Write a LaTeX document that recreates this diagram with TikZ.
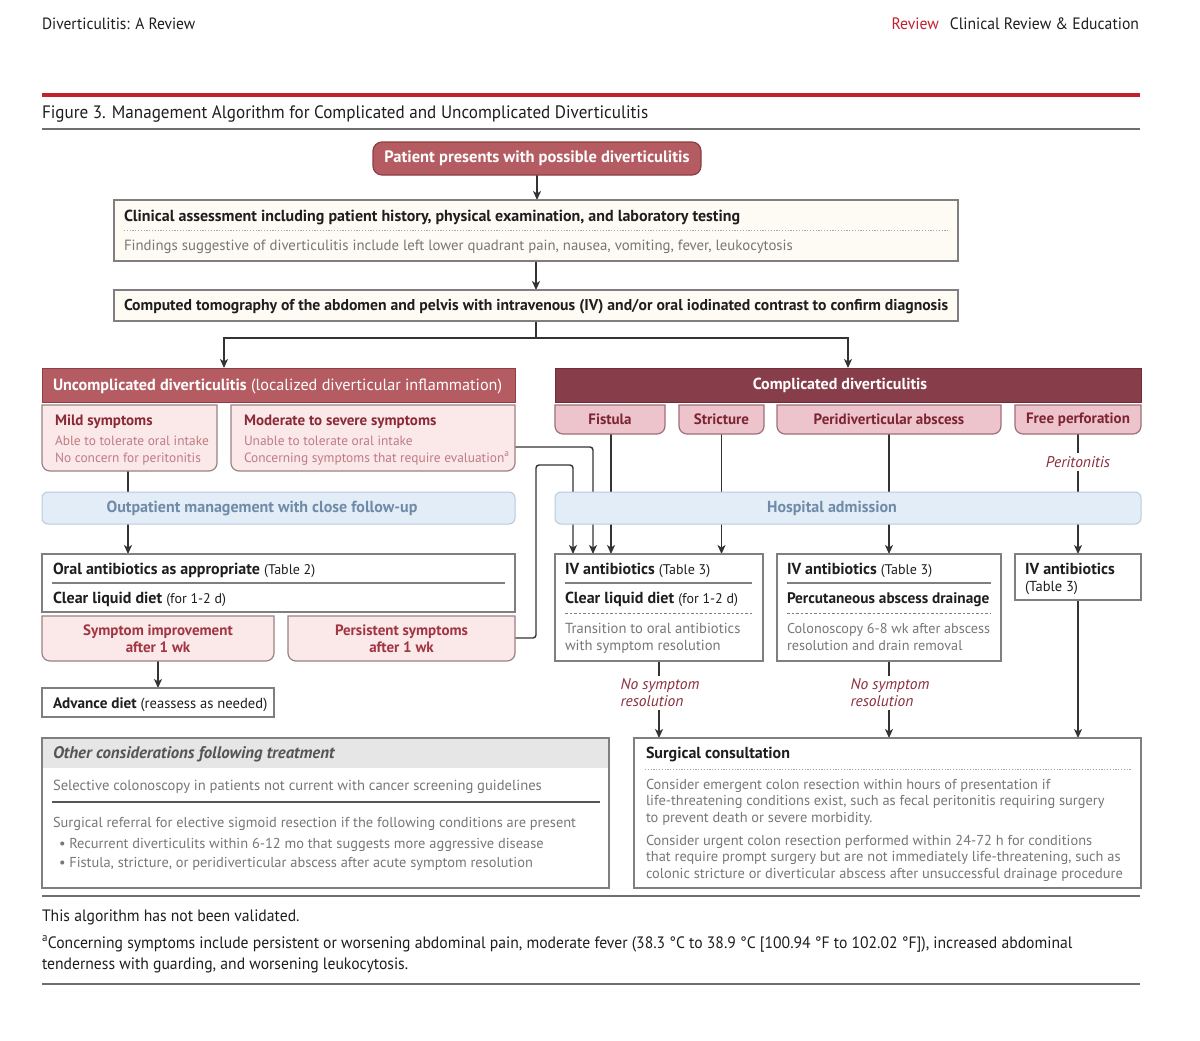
\documentclass[tikz,border=0pt]{standalone}
\usepackage{fontspec}
\setmainfont{PT Sans}
\newfontfamily\hdrf{PT Sans}[FakeStretch=0.95]
\usetikzlibrary{arrows.meta,fit,calc}
\pgfdeclarelayer{bg}
\pgfsetlayers{bg,main}
\definecolor{txtc}{HTML}{1E1E1E}
\definecolor{graytxt}{HTML}{777777}
\definecolor{linec}{HTML}{333333}
\definecolor{boxc}{HTML}{7F7F7F}
\definecolor{dotc}{HTML}{A8A8A8}
\definecolor{cream}{HTML}{FDFBF3}
\definecolor{redA}{HTML}{B45C61}
\definecolor{redB}{HTML}{8C3F45}
\definecolor{redC}{HTML}{873E4A}
\definecolor{redD}{HTML}{6E2E38}
\definecolor{pinkA}{HTML}{FBE8E9}
\definecolor{pinkB}{HTML}{9B8285}
\definecolor{pinkC}{HTML}{EDC4CB}
\definecolor{pinkD}{HTML}{9D7077}
\definecolor{mrn}{HTML}{8A2A36}
\definecolor{mrnB}{HTML}{7C2433}
\definecolor{pinktxt}{HTML}{BF7C82}
\definecolor{symc}{HTML}{A13541}
\definecolor{blueA}{HTML}{E2EDF8}
\definecolor{blueB}{HTML}{B8CADB}
\definecolor{blueT}{HTML}{6F8BA7}
\definecolor{lblc}{HTML}{8A2E3C}
\definecolor{grayband}{HTML}{E6E6E6}
\definecolor{othc}{HTML}{555555}
\definecolor{revred}{HTML}{C3202E}
\definecolor{rulec}{HTML}{6E6E6E}
\newcommand\fsz[1]{\fontsize{#1}{#1}\selectfont}
\newcommand\fsl[2]{\fontsize{#1}{#2}\selectfont}
\newcommand\bx[6]{\node[fit={(#2,-#3) (#4,-#5)}, inner sep=0pt, outer sep=0pt, #6] (#1) {};}
\newcommand\botround[2]{\path[#2] (#1.north west) -- ([yshift=8pt]#1.south west) arc[start angle=180,end angle=270,radius=8pt] -- ([xshift=-8pt]#1.south east) arc[start angle=270,end angle=360,radius=8pt] -- (#1.north east) -- cycle;}
\begin{document}
\begin{tikzpicture}[x=1pt,y=1pt,
 conn/.style={draw=linec,line width=1.4pt},
 arr/.style={conn,-{Stealth[length=9pt,width=8pt,inset=2.5pt]}},
 tx/.style={inner sep=0pt,outer sep=0pt,anchor=base west,text=txtc,font={\fsz{15.5}}},
 btx/.style={tx,font={\fsz{16}\bfseries}},
 gtx/.style={tx,text=graytxt,font={\fsz{14.6}}},
 ptx/.style={tx,text=pinktxt,font={\fsz{13.4}}},
 ctx/.style={inner sep=0pt,outer sep=0pt,anchor=center,align=center},
 lbl/.style={inner sep=3pt,align=left,text=lblc,font={\fsl{15.5}{17}\itshape}},
 whitebox/.style={fill=white,draw=boxc,line width=1.2pt},
 creambox/.style={fill=cream,draw=boxc,line width=1.2pt},
 lightpink/.style={fill=pinkA,draw=pinkB,line width=1.2pt},
 medpink/.style={fill=pinkC,draw=pinkD,line width=1.2pt},
 bluebox/.style={fill=blueA,draw=blueB,line width=1pt,rounded corners=6pt},
 sepline/.style={draw=boxc,line width=1.2pt},
 dotline/.style={draw=dotc,line width=1pt,dash pattern=on 1.2pt off 1.6pt},
 dashline/.style={draw=boxc,line width=1pt,dash pattern=on 2.5pt off 2pt},
 rule/.style={draw=rulec,line width=2pt}
]
\useasboundingbox (0,0) rectangle (1200,-1041);
\begin{pgfonlayer}{bg}
\fill[white] (0,0) rectangle (1200,-1041);
\end{pgfonlayer}

% header
\node[tx,font={\hdrf\fsz{16.3}}] (hleft) at (42,-30) {Diverticulitis: A Review};
\node[tx,anchor=base east,font={\hdrf\fsz{16.5}}] (hright) at (1139,-30) {\textcolor{revred}{Review}\hspace{11pt}Clinical Review \& Education};
\draw[revred,line width=3.5pt] (42,-95) -- (1140,-95);
\node[tx,font={\hdrf\fsz{18}}] (title) at (42,-118) {Figure 3. Management Algorithm for Complicated and Uncomplicated Diverticulitis};
\draw[rule] (42,-129) -- (1140,-129);

% top
\bx{start}{373}{142}{701}{175}{fill=redA,draw=redB,line width=1.2pt,rounded corners=9pt}
\node[ctx,text=white,font={\fsz{16.5}\bfseries}] (startT) at (start.center) {Patient presents with possible diverticulitis};

\bx{clin}{114}{200}{958}{261}{creambox}
\node[btx] (clinT) at (124,-221) {Clinical assessment including patient history, physical examination, and laboratory testing};
\draw[dotline] (124,-230) -- (950,-230);
\node[gtx,font={\fsz{14.8}}] (clinS) at (124,-250) {Findings suggestive of diverticulitis include left lower quadrant pain, nausea, vomiting, fever, leukocytosis};

\bx{ct}{114}{290}{958}{321}{creambox}
\node[btx,font={\fsz{15.7}\bfseries}] (ctT) at (124,-310) {Computed tomography of the abdomen and pelvis with intravenous (IV) and/or oral iodinated contrast to confirm diagnosis};

% headers
\bx{unc}{42}{368}{515}{402}{fill=redA,draw=redB,line width=1pt}
\node[tx,text=white,font={\fsz{16.2}}] (uncT) at (53,-390) {\textbf{Uncomplicated diverticulitis} (localized diverticular inflammation)};
\bx{comp}{555}{368}{1141}{402}{fill=redC,draw=redD,line width=1pt}
\node[ctx,text=white,font={\fsz{16}\bfseries}] (compT) at (840,-385) {Complicated diverticulitis};

% mild / moderate
\bx{mild}{42}{405}{217}{471}{}
\botround{mild}{lightpink}
\node[btx,text=mrn,font={\fsz{15}\bfseries}] (mildT) at (55,-425) {Mild symptoms};
\node[ptx] (mild1) at (55,-445) {Able to tolerate oral intake};
\node[ptx] (mild2) at (55,-462) {No concern for peritonitis};

\bx{mod}{231}{405}{515}{471}{}
\botround{mod}{lightpink}
\node[btx,text=mrn,font={\fsz{15}\bfseries}] (modT) at (244,-425) {Moderate to severe symptoms};
\node[ptx] (mod1) at (244,-445) {Unable to tolerate oral intake};
\node[ptx] (mod2) at (244,-462) {Concerning symptoms that require evaluation\textsuperscript{a}};

% complications
\bx{fist}{555}{405}{665}{434}{}
\botround{fist}{medpink}
\node[ctx,text=mrnB,font={\fsz{15}\bfseries}] (fistT) at (fist.center) {Fistula};
\bx{stric}{679}{405}{764}{434}{}
\botround{stric}{medpink}
\node[ctx,text=mrnB,font={\fsz{15}\bfseries}] (stricT) at (stric.center) {Stricture};
\bx{absc}{777}{405}{1001}{434}{}
\botround{absc}{medpink}
\node[ctx,text=mrnB,font={\fsz{15}\bfseries}] (abscT) at (absc.center) {Peridiverticular abscess};
\bx{perf}{1015}{405}{1141}{434}{}
\botround{perf}{medpink}
\node[ctx,text=mrnB,font={\fsz{15}\bfseries}] (perfT) at (perf.center) {Free perforation};

\node[lbl] (perit) at (1078,-462) {Peritonitis};

% blue bars
\bx{outp}{42}{492}{515}{524}{bluebox}
\node[ctx,text=blueT,font={\fsz{16}\bfseries}] (outpT) at (262,-508) {Outpatient management with close follow-up};
\bx{hosp}{555}{492}{1141}{524}{bluebox}
\node[ctx,text=blueT,font={\fsz{16}\bfseries}] (hospT) at (832,-508) {Hospital admission};

% outpatient branch
\bx{oral}{42}{554}{515}{612}{whitebox}
\node[tx] (oral1) at (53,-574) {{\fsz{16}\bfseries Oral antibiotics as appropriate} {\fsz{14}(Table 2)}};
\draw[sepline] (52,-583) -- (505,-583);
\node[tx] (oral2) at (53,-603) {{\fsz{16}\bfseries Clear liquid diet} {\fsz{14}(for 1-2 d)}};

\bx{symi}{42}{616}{274}{661}{}
\botround{symi}{lightpink}
\node[ctx,text=symc,font={\fsl{15}{17}\bfseries}] (symiT) at (symi.center) {Symptom improvement\\after 1 wk};
\bx{pers}{288}{616}{515}{661}{}
\botround{pers}{lightpink}
\node[ctx,text=symc,font={\fsl{15}{17}\bfseries}] (persT) at (pers.center) {Persistent symptoms\\after 1 wk};

\bx{adv}{42}{688}{274}{717}{whitebox}
\node[tx,font={\fsz{14.6}}] (advT) at (53,-708) {{\fsz{15.2}\bfseries Advance diet} (reassess as needed)};

% hospital branch
\bx{iva}{555}{554}{763}{661}{whitebox}
\node[tx] (iva1) at (565,-574) {{\fsz{16}\bfseries IV antibiotics} {\fsz{14}(Table 3)}};
\draw[sepline] (565,-583) -- (752,-583);
\node[tx] (iva2) at (565,-603) {{\fsz{16}\bfseries Clear liquid diet} {\fsz{14}(for 1-2 d)}};
\draw[dashline] (565,-613) -- (752,-613);
\node[gtx] (iva3) at (565,-633) {Transition to oral antibiotics};
\node[gtx] (iva4) at (565,-650) {with symptom resolution};

\bx{ivb}{777}{554}{1001}{661}{whitebox}
\node[tx] (ivb1) at (787,-574) {{\fsz{16}\bfseries IV antibiotics} {\fsz{14}(Table 3)}};
\draw[sepline] (787,-583) -- (991,-583);
\node[btx,font={\fsz{15.3}\bfseries}] (ivb2) at (787,-603) {Percutaneous abscess drainage};
\draw[dashline] (787,-613) -- (991,-613);
\node[gtx,font={\fsz{14.2}}] (ivb3) at (787,-633) {Colonoscopy 6-8 wk after abscess};
\node[gtx,font={\fsz{14.2}}] (ivb4) at (787,-650) {resolution and drain removal};

\bx{ivc}{1015}{554}{1141}{600}{whitebox}
\node[btx] (ivc1) at (1025,-574) {IV antibiotics};
\node[tx,font={\fsz{14.5}}] (ivc2) at (1025,-591) {(Table 3)};

\node[lbl] (nsra) at (660,-693) {No symptom\\resolution};
\node[lbl] (nsrb) at (890,-693) {No symptom\\resolution};

% other considerations
\bx{otherH}{42}{738}{609}{768}{fill=grayband}
\bx{other}{42}{738}{609}{888}{draw=boxc,line width=1.2pt}
\node[tx,text=othc,font={\fsz{16.8}\bfseries\itshape}] (othT) at (53,-758) {Other considerations following treatment};
\node[gtx] (oth1) at (53,-790) {Selective colonoscopy in patients not current with cancer screening guidelines};
\draw[draw=othc,line width=1.2pt] (52,-802) -- (600,-802);
\node[gtx,font={\fsz{14.4}}] (oth2) at (53,-827) {Surgical referral for elective sigmoid resection if the following conditions are present};
\node[gtx,font={\fsz{14.4}}] (oth3) at (59,-848) {\textbullet\ Recurrent diverticulits within 6-12 mo that suggests more aggressive disease};
\node[gtx,font={\fsz{14.4}}] (oth4) at (59,-867) {\textbullet\ Fistula, stricture, or peridiverticular abscess after acute symptom resolution};

% surgical consultation
\bx{surg}{634}{738}{1141}{888}{whitebox}
\node[btx] (surgT) at (646,-758) {Surgical consultation};
\draw[dotline] (645,-769) -- (1132,-769);
\node[gtx,font={\fsz{14.4}}] (surg1) at (646,-789) {Consider emergent colon resection within hours of presentation if};
\node[gtx,font={\fsz{14.4}}] (surg2) at (646,-805) {life-threatening conditions exist, such as fecal peritonitis requiring surgery};
\node[gtx,font={\fsz{14.4}}] (surg3) at (646,-822) {to prevent death or severe morbidity.};
\node[gtx,font={\fsz{14.4}}] (surg4) at (646,-845) {Consider urgent colon resection performed within 24-72 h for conditions};
\node[gtx,font={\fsz{14.4}}] (surg5) at (646,-861) {that require prompt surgery but are not immediately life-threatening, such as};
\node[gtx,font={\fsz{14.4}}] (surg6) at (646,-878) {colonic stricture or diverticular abscess after unsuccessful drainage procedure};

% footer
\draw[rule] (42,-896) -- (1140,-896);
\node[tx,font={\hdrf\fsz{16.5}}] (foot1) at (42,-921) {This algorithm has not been validated.};
\node[tx,font={\hdrf\fsz{16.5}}] (foot2) at (42,-948) {\textsuperscript{a}Concerning symptoms include persistent or worsening abdominal pain, moderate fever (38.3 °C to 38.9 °C [100.94 °F to 102.02 °F]), increased abdominal};
\node[tx,font={\hdrf\fsz{16.5}}] (foot3) at (42,-969) {tenderness with guarding, and worsening leukocytosis.};
\draw[rule] (42,-984) -- (1140,-984);

% connectors
\begin{pgfonlayer}{bg}
\draw[arr] (start.south) -- (start.south |- clin.north);
\draw[arr] (clin.south) -- (ct.north);
\coordinate (split) at (ct.south |- 0,-338);
\draw[conn] (ct.south) -- (split);
\draw[arr] (split) -| (unc.north -| 224,0);
\draw[arr] (split) -| (comp.north -| 848,0);
\draw[arr] (mild.south -| 128,0) -- (oral.north -| 128,0);
\draw[arr,rounded corners=3pt] (mod.east |- 0,-447) -| (iva.north -| 593,0);
\draw[arr] (fist.south -| 611,0) -- (iva.north -| 611,0);
\draw[arr] (stric.south) -- (iva.north -| stric.south);
\draw[arr] (absc.south) -- (ivb.north -| absc.south);
\draw[conn] (perf.south) -- (perit.north);
\draw[arr] (perit.south) -- (ivc.north);
\draw[arr,rounded corners=3pt] (pers.east |- 0,-638) -| (536,-465) -| (iva.north -| 573,0);
\draw[arr] (symi.south) -- (adv.north -| symi.south);
\draw[conn] (iva.south) -- (nsra.north -| iva.south);
\draw[arr] (nsra.south -| iva.south) -- (surg.north -| iva.south);
\draw[conn] (ivb.south) -- (nsrb.north -| ivb.south);
\draw[arr] (nsrb.south -| ivb.south) -- (surg.north -| ivb.south);
\draw[arr] (ivc.south) -- (surg.north -| ivc.south);
\end{pgfonlayer}
\end{tikzpicture}
\end{document}
